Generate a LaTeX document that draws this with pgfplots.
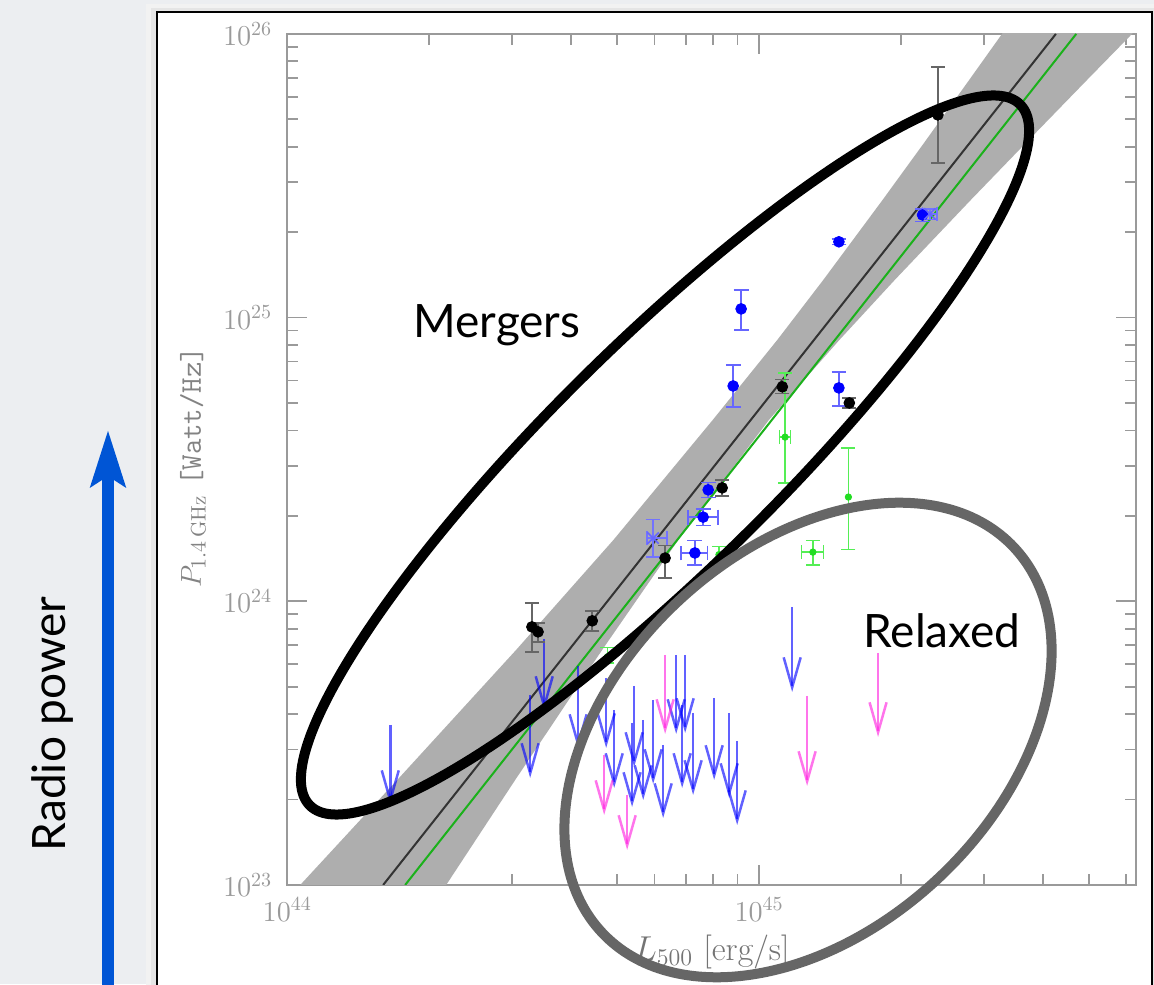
\documentclass[border=0pt]{standalone}
\usepackage{fontspec}
\newfontfamily\gill{Lato}
\usepackage{pgfplots}
\pgfplotsset{compat=1.18}
\usetikzlibrary{arrows.meta}

\definecolor{slidebg}{HTML}{ECEEF1}
\definecolor{axgray}{HTML}{9A9A9A}
\definecolor{ulmag}{HTML}{FF20E0}
\definecolor{ptgreen}{HTML}{22DD22}
\definecolor{errgreen}{HTML}{55EE55}
\definecolor{arrowblue}{HTML}{0055D5}
\definecolor{relgray}{HTML}{666666}
\definecolor{bandgray}{HTML}{AEAEAE}

\newcommand{\ulim}[4]{\addplot[draw=#1, draw opacity=0.62, line width=1.25pt, -{Straight Barb[length=15pt,width=8.5pt]}] coordinates {(#2,#3) (#2,#4)};}

\begin{document}
\begin{tikzpicture}[x=0.5pt,y=0.5pt]
\useasboundingbox (0,0) rectangle (1154,984);
\fill[slidebg] (0,0) rectangle (1154,984);
\fill[black!5] (146,-10) rectangle (1154,980);
\fill[black!10] (151,-10) rectangle (1154,976);
\fill[white] (157,-10) rectangle (1152,972);
\draw[black, line width=1.3pt] (157,-10) -- (157,972) -- (1152,972) -- (1152,-10);

\begin{axis}[
  at={(143.5pt,49.5pt)}, anchor=south west,
  scale only axis, width=424.5pt, height=425.5pt,
  xmode=log, ymode=log,
  xmin=1e44, xmax=6.3e45, ymin=1e23, ymax=1e26,
  xtick={1e44,1e45}, ytick={1e23,1e24,1e25,1e26},
  minor xtick={2e44,3e44,4e44,5e44,6e44,7e44,8e44,9e44,2e45,3e45,4e45,5e45,6e45},
  minor ytick={2e23,3e23,4e23,5e23,6e23,7e23,8e23,9e23,2e24,3e24,4e24,5e24,6e24,7e24,8e24,9e24,2e25,3e25,4e25,5e25,6e25,7e25,8e25,9e25},
  axis line style={axgray, line width=1pt},
  every tick/.style={axgray, line width=0.9pt},
  major tick length=10pt, minor tick length=5.5pt,
  tick align=inside,
  ticklabel style={text=axgray, font=\fontsize{14}{14}\selectfont},
  xticklabel style={yshift=-3pt},
  yticklabel style={xshift=-4pt},
  xlabel={$L_{500}$ [erg/s]},
  ylabel={$P_{1.4\,\mathrm{GHz}}$ \texttt{[Watt/Hz]}},
  xlabel style={at={(axis description cs:0.5,-0.079)}, anchor=center, text=axgray!75!black, font=\fontsize{17}{17}\selectfont},
  ylabel style={at={(axis description cs:-0.111,0.491)}, anchor=center, text=axgray!85!black, font=\fontsize{15}{15}\selectfont},
  error bars/error mark options={rotate=90, line width=0.8pt, mark size=3.6pt},
]
% confidence band
\addplot[fill=bandgray, draw=none] coordinates {
  (9.386e43,7.968e22) (1.0655e44,1e23) (1.711e44,2.346e23) (3.055e44,6.735e23)
  (4.914e44,1.646e24) (7.977e44,4.357e24) (1.093e45,8.344e24) (1.368e45,1.358e25)
  (1.827e45,2.599e25) (2.236e45,4.127e25) (2.788e45,6.883e25) (3.272e45,1e26)
  (3.605e45,1.255e26)
  (7.051e45,1.255e26) (6.171e45,1e26) (4.955e45,6.883e25) (3.676e45,4.127e25)
  (2.810e45,2.599e25) (1.939e45,1.358e25) (1.480e45,8.344e24) (1.049e45,4.357e24)
  (6.743e44,1.646e24) (4.648e44,6.735e23) (3.042e44,2.346e23) (2.172e44,1e23)
  (1.988e44,7.968e22)
};
% fits
\addplot[black!80, line width=1pt] coordinates {(1.597e44,1e23) (4.256e45,1e26)};
\addplot[ptgreen!80!black, line width=1pt] coordinates {(1.778e44,1e23) (4.70e45,1e26)};

% upper limits (blue)
\ulim{blue}{1.653e44}{3.664e23}{1.914e23}
\ulim{blue}{3.272e44}{4.675e23}{2.384e23}
\ulim{blue}{3.504e44}{7.36e23}{4.107e23}
\ulim{blue}{4.135e44}{5.915e23}{3.016e23}
\ulim{blue}{4.741e44}{5.366e23}{3.04e23}
\ulim{blue}{4.93e44}{4.14e23}{2.198e23}
\ulim{blue}{5.435e44}{5.03e23}{2.606e23}
\ulim{blue}{5.38e44}{3.724e23}{1.884e23}
\ulim{blue}{5.68e44}{3.816e23}{1.993e23}
\ulim{blue}{5.963e44}{4.487e23}{2.27e23}
\ulim{blue}{6.261e44}{3.116e23}{1.722e23}
\ulim{blue}{6.672e44}{6.469e23}{3.407e23}
\ulim{blue}{6.97e44}{6.469e23}{3.435e23}
\ulim{blue}{6.869e44}{4.31e23}{2.198e23}
\ulim{blue}{7.247e44}{4.04e23}{2.077e23}
\ulim{blue}{8.03e44}{4.563e23}{2.346e23}
\ulim{blue}{8.64e44}{4.04e23}{2.026e23}
\ulim{blue}{8.985e44}{3.218e23}{1.627e23}
\ulim{blue}{1.175e45}{9.55e23}{4.79e23}
% upper limits (magenta)
\ulim{ulmag}{4.695e44}{2.872e23}{1.765e23}
\ulim{ulmag}{5.252e44}{2.077e23}{1.329e23}
\ulim{ulmag}{6.322e44}{6.469e23}{3.407e23}
\ulim{ulmag}{1.264e45}{4.638e23}{2.234e23}
\ulim{ulmag}{1.787e45}{6.575e23}{3.325e23}

% green points
\addplot[only marks, mark=*, mark size=1.6pt, ptgreen,
  error bars/.cd, y dir=both, y explicit,
  error bar style={errgreen, line width=0.8pt},
  error mark options={rotate=90, errgreen, line width=0.8pt, mark size=3.5pt}] coordinates {
  (1.546e45,2.33e24) += (0,1.14e24) -= (0,0.81e24)
  (8.22e44,1.46e24) += (0,0.1e24) -= (0,0.1e24)
  (4.77e44,6.37e23) += (0,0.5e23) -= (0,0.3e23)
};
\addplot[only marks, mark=*, mark size=1.6pt, ptgreen,
  error bars/.cd, y dir=both, y explicit, x dir=both, x explicit,
  error bar style={errgreen, line width=0.8pt},
  error mark options={rotate=90, errgreen, line width=0.8pt, mark size=3.5pt}] coordinates {
  (1.135e45,3.79e24) += (0.03e45,2.59e24) -= (0.03e45,1.18e24)
  (1.30e45,1.49e24) += (0.07e45,0.15e24) -= (0.07e45,0.15e24)
};

% blue points
\addplot[only marks, mark=*, mark size=2.7pt, blue,
  error bars/.cd, y dir=both, y explicit,
  error bar style={blue!60, line width=0.8pt},
  error mark options={rotate=90, blue!60, line width=0.8pt, mark size=3.7pt}] coordinates {
  (9.16e44,1.073e25) += (0,0.177e25) -= (0,0.169e25)
  (8.81e44,5.74e24) += (0,1.07e24) -= (0,0.90e24)
  (1.476e45,5.65e24) += (0,0.78e24) -= (0,0.76e24)
  (7.80e44,2.47e24) += (0,0.15e24) -= (0,0.15e24)
  (1.476e45,1.85e25) += (0,0.04e25) -= (0,0.04e25)
  (2.22e45,2.30e25) += (0,0.12e25) -= (0,0.12e25)
};
\addplot[only marks, mark=*, mark size=2.7pt, blue,
  error bars/.cd, y dir=both, y explicit, x dir=both, x explicit,
  error bar style={blue!60, line width=0.8pt},
  error mark options={rotate=90, blue!60, line width=0.8pt, mark size=3.7pt}] coordinates {
  (7.61e44,1.98e24) += (0.58e44,0.13e24) -= (0.54e44,0.13e24)
  (7.31e44,1.48e24) += (0.47e44,0.16e24) -= (0.47e44,0.14e24)
};
\addplot[only marks, mark=x, mark size=4pt, blue!60, line width=0.8pt,
  error bars/.cd, y dir=both, y explicit, x dir=both, x explicit,
  error bar style={blue!55, line width=0.8pt},
  error mark options={rotate=90, blue!55, line width=0.8pt, mark size=3.7pt}] coordinates {
  (5.96e44,1.67e24) += (0.42e44,0.27e24) -= (0.17e44,0.24e24)
  (2.30e45,2.32e25) += (0.08e45,0.1e25) -= (0.08e45,0.1e25)
};

% black points
\addplot[only marks, mark=*, mark size=2.7pt, black,
  error bars/.cd, y dir=both, y explicit,
  error bar style={black!60, line width=0.8pt},
  error mark options={rotate=90, black!60, line width=0.8pt, mark size=3.5pt}] coordinates {
  (2.393e45,5.18e25) += (0,2.48e25) -= (0,1.67e25)
  (3.30e44,8.12e23) += (0,1.74e23) -= (0,1.50e23)
  (3.40e44,7.80e23) += (0,0.6e23) -= (0,0.6e23)
  (4.43e44,8.53e23) += (0,0.72e23) -= (0,0.66e23)
  (6.32e44,1.42e24) += (0,0.15e24) -= (0,0.21e24)
  (8.35e44,2.51e24) += (0,0.17e24) -= (0,0.16e24)
  (1.12e45,5.70e24) += (0,0.35e24) -= (0,0.3e24)
  (1.553e45,5.0e24) += (0,0.2e24) -= (0,0.2e24)
};
\end{axis}

% annotations
\draw[black, line width=5pt, rotate around={44.6:(665,529)}] (665,529) ellipse [x radius=249.5pt, y radius=56.5pt];
\draw[relgray, line width=5pt, rotate around={43:(808,244)}] (808,244) ellipse [x radius=141pt, y radius=95pt];
\node[anchor=base, font=\gill\fontsize{23}{23}\selectfont] at (497,646) {Mergers};
\node[anchor=base, font=\gill\fontsize{23}{23}\selectfont] at (942,336) {Relaxed};
\node[anchor=base, rotate=90, font=\gill\fontsize{23}{23}\selectfont] at (65,260) {Radio power};
\draw[arrowblue, line width=6pt, -{Stealth[length=28pt,width=17pt,inset=5pt]}] (108,-20) -- (108,554);
\end{tikzpicture}
\end{document}
